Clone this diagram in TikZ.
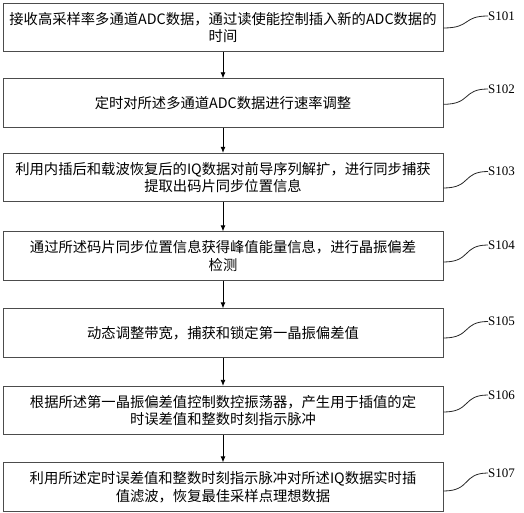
\documentclass[tikz,border=0pt]{standalone}
\usepackage{fontspec}
\setmainfont{Liberation Serif}
\newfontfamily\cjk{Noto Sans CJK SC}
\usetikzlibrary{arrows.meta}
\begin{document}
\begin{tikzpicture}[x=1pt,y=-1pt,
  stepbox/.style={draw=black!70, line width=0.8pt, minimum width=440pt, minimum height=48.5pt,
    inner sep=0pt, align=center, font=\cjk\fontsize{14.3}{17.5}\selectfont},
  flow/.style={-{Latex[length=6pt,width=5pt]}, line width=0.8pt, black},
  lbl/.style={font=\fontsize{13}{13}\selectfont, anchor=west, inner sep=0pt},
  lead/.style={line width=0.8pt, black!85}]
\useasboundingbox (0,0) rectangle (524,513);
\node[stepbox] (b1) at (223,27.5) {接收高采样率多通道ADC数据，通过读使能控制插入新的ADC数据的\\时间};
\node[stepbox] (b2) at (223,103) {定时对所述多通道ADC数据进行速率调整};
\node[stepbox] (b3) at (223,177.5) {利用内插后和载波恢复后的IQ数据对前导序列解扩，进行同步捕获\\提取出码片同步位置信息};
\node[stepbox] (b4) at (223,256) {通过所述码片同步位置信息获得峰值能量信息，进行晶振偏差\\检测};
\node[stepbox] (b5) at (223,333) {动态调整带宽，捕获和锁定第一晶振偏差值};
\node[stepbox] (b6) at (223,410.5) {根据所述第一晶振偏差值控制数控振荡器，产生用于插值的定\\时误差值和整数时刻指示脉冲};
\node[stepbox] (b7) at (223,487) {利用所述定时误差值和整数时刻指示脉冲对所述IQ数据实时插\\值滤波，恢复最佳采样点理想数据};
\draw[flow] (b1) -- (b2);
\draw[flow] (b2) -- (b3);
\draw[flow] (b3) -- (b4);
\draw[flow] (b4) -- (b5);
\draw[flow] (b5) -- (b6);
\draw[flow] (b6) -- (b7);
\node[lbl] (l1) at (488,16) {S101};
\node[lbl] (l2) at (488,89) {S102};
\node[lbl] (l3) at (488,171.5) {S103};
\node[lbl] (l4) at (488,245) {S104};
\node[lbl] (l5) at (488,321.5) {S105};
\node[lbl] (l6) at (488,395) {S106};
\node[lbl] (l7) at (488,473) {S107};
\draw[lead] ([yshift=-0.5pt]b1.east) .. controls +(28,0) and +(-26,0) .. (l1.west);
\draw[lead] ([yshift=-1.3pt]b2.east) .. controls +(28,0) and +(-26,0) .. (l2.west);
\draw[lead] ([yshift=-10.5pt]b3.east) .. controls +(28,0) and +(-26,0) .. (l3.west);
\draw[lead] ([yshift=-6pt]b4.east) .. controls +(28,0) and +(-26,0) .. (l4.west);
\draw[lead] ([yshift=-5pt]b5.east) .. controls +(28,0) and +(-26,0) .. (l5.west);
\draw[lead] ([yshift=-1.5pt]b6.east) .. controls +(28,0) and +(-26,0) .. (l6.west);
\draw[lead] ([yshift=-4pt]b7.east) .. controls +(28,0) and +(-26,0) .. (l7.west);
\end{tikzpicture}
\end{document}
